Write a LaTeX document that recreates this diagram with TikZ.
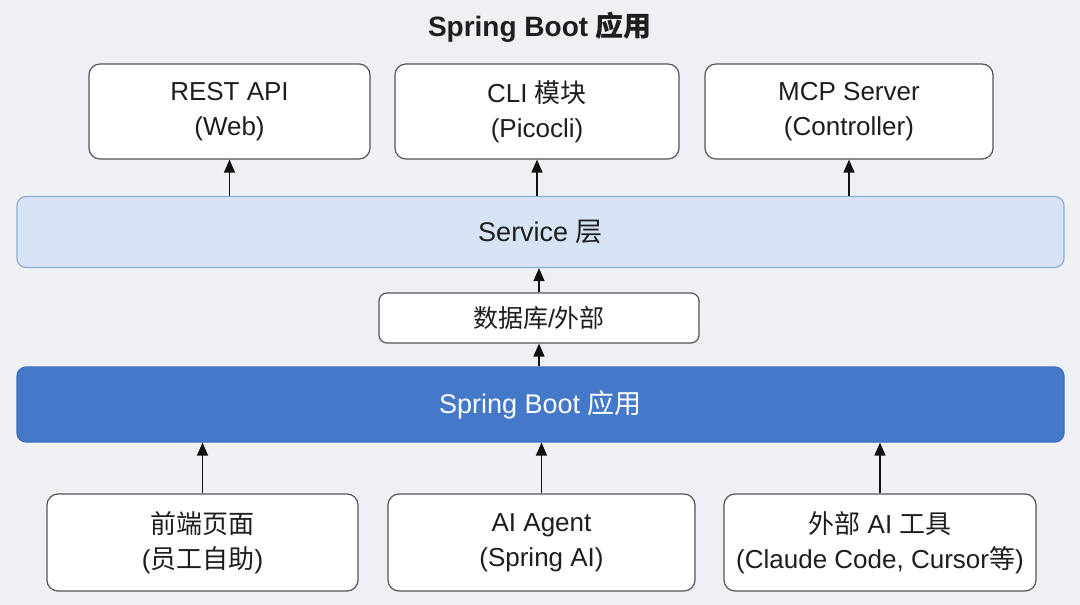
\documentclass[tikz,border=0pt]{standalone}
\usepackage{fontspec}
\setmainfont{Liberation Sans}
\newfontfamily\cjk{Noto Sans CJK SC}
\newcommand{\zh}[1]{{\cjk #1}}
\usepackage{xcolor}
\usetikzlibrary{arrows.meta,positioning}
\definecolor{bgcol}{HTML}{EEF0F3}
\definecolor{boxline}{HTML}{555555}
\definecolor{textcol}{HTML}{1E1E1E}
\definecolor{svcfill}{HTML}{D6E3F5}
\definecolor{svcline}{HTML}{8FAED8}
\definecolor{appfill}{HTML}{4478C9}
\definecolor{appline}{HTML}{3F70C0}
\definecolor{arrowcol}{HTML}{111111}

\begin{document}
\begin{tikzpicture}[x=1pt,y=-1pt,line width=1.2pt,
  modbox/.style={draw=boxline,fill=white,rounded corners=11pt,minimum width=284pt,minimum height=95pt,
    align=center,text=textcol,font=\fontsize{26}{35}\selectfont},
  clientbox/.style={modbox,minimum width=310pt,minimum height=97pt},
  layerbar/.style={draw=svcline,fill=svcfill,rounded corners=9pt,minimum width=1047pt,minimum height=71pt,
    text=textcol,font=\fontsize{27}{32}\selectfont},
  flow/.style={-{Triangle[width=11pt,length=13pt]},line width=1.3pt,draw=arrowcol}
]
  \fill[bgcol] (0,0) rectangle (1080,605);
  \useasboundingbox (0,0) rectangle (1080,605);

  % title
  \node[text=textcol,font=\fontsize{28}{32}\selectfont\bfseries] (title) at (540,27) {Spring Boot \zh{\bfseries 应用}};

  % entry points
  \node[modbox,minimum width=281pt] (rest) at (229.5,111.5) {REST API\\(Web)};
  \node[modbox] (cli) at (537,111.5) {CLI \zh{模块}\\(Picocli)};
  \node[modbox,minimum width=288pt] (mcp) at (849,111.5) {MCP Server\\(Controller)};

  % layers
  \node[layerbar] (service) at (540.5,232) {Service \zh{层}};
  \node[draw=boxline,fill=white,rounded corners=8pt,minimum width=320pt,minimum height=50pt,
    text=textcol,font=\fontsize{25}{30}\selectfont] (store) at (539,318) {\zh{数据库}/\zh{外部}};
  \node[layerbar,draw=appline,fill=appfill,text=white,minimum height=75pt] (app) at (540.5,404.5) {Spring Boot \zh{应用}};

  % clients
  \node[clientbox,minimum width=311pt] (web) at (202.5,542.5) {\zh{前端页面}\\(\zh{员工自助})};
  \node[clientbox,minimum width=307pt] (agent) at (541.5,542.5) {AI Agent\\(Spring AI)};
  \node[clientbox,minimum width=312pt] (aitool) at (880,542.5) {\zh{外部} AI \zh{工具}\\(Claude Code, Cursor\zh{等})};

  % arrows
  \foreach \m in {rest,cli,mcp}
    \draw[flow] (service.north -| \m) -- (\m.south);
  \draw[flow] (store.north) -- (store.north |- service.south);
  \draw[flow] (app.north -| store) -- (store.south);
  \foreach \c in {web,agent,aitool}
    \draw[flow] (\c.north) -- (\c.north |- app.south);
\end{tikzpicture}
\end{document}
